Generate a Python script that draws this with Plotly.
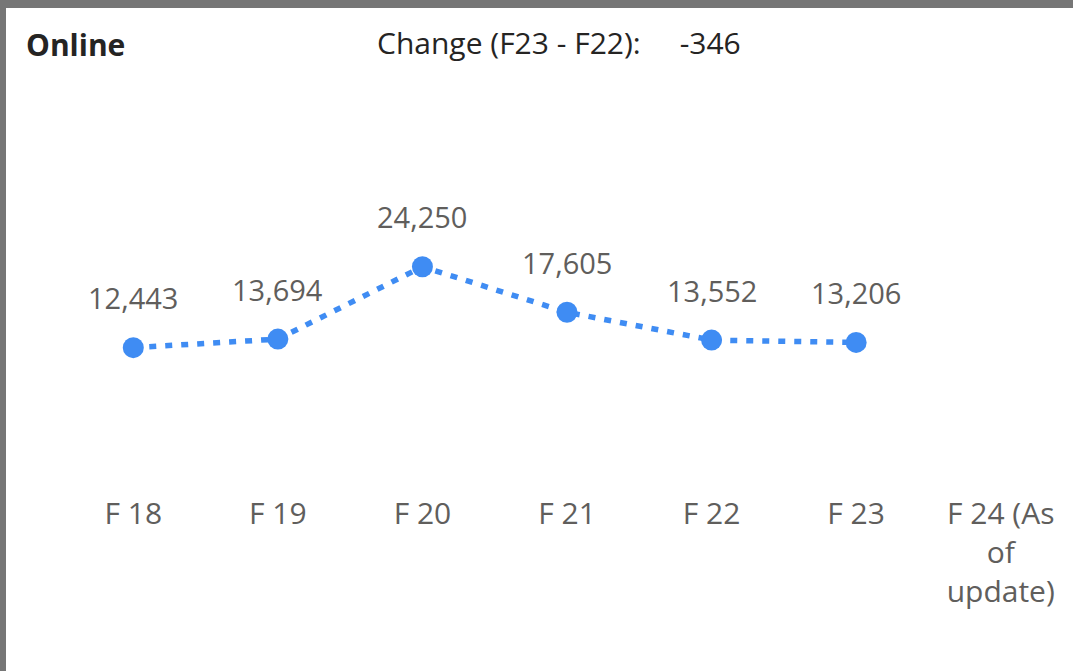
import plotly.graph_objects as go

categories = ["F 18", "F 19", "F 20", "F 21", "F 22", "F 23", "F 24 (As<br>of<br>update)"]
values = [12443, 13694, 24250, 17605, 13552, 13206]
title_text = "Online"
change_label = "Change (F23 - F22):"
change_value = "-346"

W, H = 1073, 671
ML, MR, MT, MB = 61, 0, 193, 238
pw = W - ML - MR
ph = H - MT - MB

blue = "#3F8CF3"
label_color = "#605E5C"
title_color = "#252423"
font_family = "Open Sans, Segoe UI, sans-serif"

fig = go.Figure()
fig.add_trace(go.Scatter(
    x=categories[:len(values)], y=values,
    mode="lines+markers",
    line=dict(color=blue, width=5.5, dash="7px,9px"),
    marker=dict(color=blue, size=21),
    hoverinfo="skip",
))

annotations = []
for c, v in zip(categories, values):
    annotations.append(dict(
        x=c, y=v, xref="x", yref="y", text=f"{v:,}", showarrow=False,
        yshift=50, font=dict(size=29, color=label_color, family=font_family),
    ))

def px_x(p):
    return (p - ML) / pw

def px_y(p):
    return (H - MB - p) / ph

annotations.append(dict(
    x=px_x(24), y=px_y(44), xref="paper", yref="paper", xanchor="left", yanchor="middle",
    text=f"<b>{title_text}</b>", showarrow=False,
    font=dict(size=30, color=title_color, family=font_family),
))
annotations.append(dict(
    x=px_x(375), y=px_y(42), xref="paper", yref="paper", xanchor="left", yanchor="middle",
    text=change_label + "\u00a0" * 5 + change_value, showarrow=False,
    font=dict(size=30, color=title_color, family=font_family),
))

frame = "#767676"
shapes = [
    dict(type="rect", xref="paper", yref="paper", x0=px_x(0), x1=px_x(W), y0=px_y(0), y1=px_y(8),
         fillcolor=frame, line=dict(width=0), layer="below"),
    dict(type="rect", xref="paper", yref="paper", x0=px_x(0), x1=px_x(6), y0=px_y(0), y1=px_y(H),
         fillcolor=frame, line=dict(width=0), layer="below"),
]

fig.update_layout(
    width=W, height=H,
    margin=dict(l=ML, r=MR, t=MT, b=MB, pad=0),
    paper_bgcolor="white", plot_bgcolor="white",
    showlegend=False,
    annotations=annotations,
    shapes=shapes,
    xaxis=dict(
        type="category", categoryorder="array", categoryarray=categories,
        range=[-0.5, len(categories) - 0.5],
        showgrid=False, zeroline=False, showline=False, ticks="",
        tickfont=dict(size=30, color=label_color, family=font_family),
        ticklabelstandoff=60,
    ),
    yaxis=dict(
        range=[0, 35000], visible=False, showgrid=False, zeroline=False,
    ),
)

fig.write_html(
    "out.html",
    config={"displayModeBar": False, "staticPlot": True},
    post_script="document.body.style.margin='0';document.body.style.overflow='hidden';",
)
